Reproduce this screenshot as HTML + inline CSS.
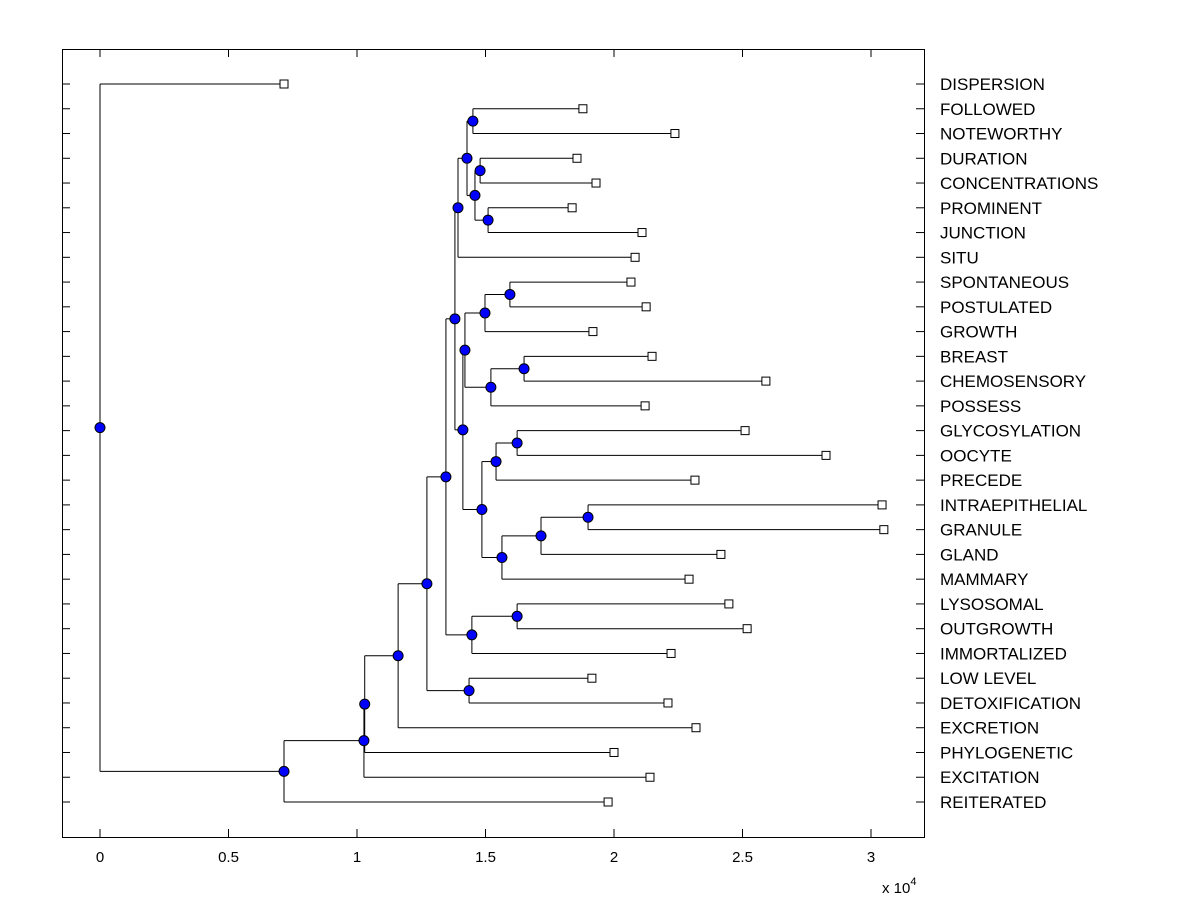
<!DOCTYPE html>
<html><head><meta charset="utf-8"><style>
body{margin:0;background:#fff;}
svg{display:block;font-family:"Liberation Sans",Arial,sans-serif;}
</style></head><body>
<svg id="chart" width="1200" height="900" viewBox="0 0 1200 900">
<rect x="0" y="0" width="1200" height="900" fill="#fff"/>
<g id="links"></g>
<g id="marks"></g>
<g id="axes"></g>
</svg>
<script>
const labels = ["DISPERSION","FOLLOWED","NOTEWORTHY","DURATION","CONCENTRATIONS","PROMINENT","JUNCTION","SITU","SPONTANEOUS","POSTULATED","GROWTH","BREAST","CHEMOSENSORY","POSSESS","GLYCOSYLATION","OOCYTE","PRECEDE","INTRAEPITHELIAL","GRANULE","GLAND","MAMMARY","LYSOSOMAL","OUTGROWTH","IMMORTALIZED","LOW LEVEL","DETOXIFICATION","EXCRETION","PHYLOGENETIC","EXCITATION","REITERATED"];
const leafValues = [0.716,1.879,2.237,1.856,1.93,1.837,2.109,2.082,2.066,2.125,1.918,2.148,2.591,2.121,2.51,2.825,2.315,3.043,3.05,2.416,2.292,2.447,2.518,2.222,1.914,2.21,2.319,2.0,2.14,1.977];
const nodeNames = ["N","P","Q","O","M","K","V","T","W","U","R","Z","X","BB","AA","Y","S","L","H","J","I","F","G","E","D","C","B","A","root"];
const nodeValues = [1.451,1.479,1.51,1.459,1.428,1.393,1.595,1.498,1.65,1.521,1.42,1.623,1.541,1.899,1.716,1.564,1.486,1.412,1.381,1.623,1.447,1.346,1.436,1.272,1.16,1.03,1.027,0.716,0];
const nodeChildren = [[1,2],[3,4],[5,6],["P","Q"],["N","O"],["M",7],[8,9],["V",10],[11,12],["W",13],["T","U"],[14,15],["Z",16],[17,18],["BB",19],["AA",20],["X","Y"],["R","S"],["K","L"],[21,22],["J",23],["H","I"],[24,25],["F","G"],["E",26],["D",27],["C",28],["B",29],[0,"A"]];
const xTicks = [0,0.5,1,1.5,2,2.5,3];

const L=62,R=924,T=49,B=837;
const xs = v => 100 + v*257;
const ys = i => 84 + i*(802-84)/29;
const NS="http://www.w3.org/2000/svg";
function mk(tag, attrs, parent){const e=document.createElementNS(NS,tag);for(const k in attrs)e.setAttribute(k,attrs[k]);parent.appendChild(e);return e;}
const links=document.getElementById('links'), marks=document.getElementById('marks'), axes=document.getElementById('axes');
const pos={};
labels.forEach((l,i)=>{pos[i]={x:xs(leafValues[i]),y:ys(i)};});
nodeNames.forEach((n,k)=>{
  const c=nodeChildren[k].map(ch=>pos[ch]);
  const x=xs(nodeValues[k]), y=(c[0].y+c[1].y)/2;
  pos[n]={x:x,y:y};
  const v=mk('line',{x1:x,y1:c[0].y,x2:x,y2:c[1].y,stroke:'#000','stroke-width':1},links);
  
  
  c.forEach((cc,j)=>{
    const h=mk('line',{x1:x,y1:cc.y,x2:cc.x,y2:cc.y,stroke:'#000','stroke-width':1},links);
    
    
  });
});
labels.forEach((l,i)=>{
  const p=pos[i];
  const s=mk('rect',{x:p.x-4,y:p.y-4,width:8,height:8,fill:'#fff',stroke:'#000','stroke-width':1},marks);
  
  
  const t=mk('text',{x:940,y:p.y+6,'font-size':17,fill:'#000'},axes);
  t.textContent=l;
  
  
  const a=mk('line',{x1:L,y1:p.y,x2:L+8,y2:p.y,stroke:'#000'},axes);
  
  
  const b=mk('line',{x1:R-8,y1:p.y,x2:R,y2:p.y,stroke:'#000'},axes);
  
  
});
nodeNames.forEach(n=>{
  const p=pos[n];
  const c=mk('circle',{cx:p.x,cy:p.y,r:5,fill:'#0000ff',stroke:'#000','stroke-width':1},marks);
  
  
});
const box=mk('rect',{x:L+0.5,y:T+0.5,width:R-L,height:B-T,fill:'none',stroke:'#000','stroke-width':1},axes);


xTicks.forEach(v=>{
  const x=xs(v);
  const t1=mk('line',{x1:x,y1:B,x2:x,y2:B-8,stroke:'#000'},axes);
  
  
  const t2=mk('line',{x1:x,y1:T,x2:x,y2:T+8,stroke:'#000'},axes);
  
  
  const tl=mk('text',{x:x,y:862,'font-size':15,'text-anchor':'middle',fill:'#000'},axes);
  tl.textContent=String(v);
  
  
});
const ex=mk('text',{x:882,y:893,'font-size':15,fill:'#000'},axes);


ex.innerHTML='x 10<tspan dy="-8" font-size="11">4</tspan>';
</script>
</body></html>
